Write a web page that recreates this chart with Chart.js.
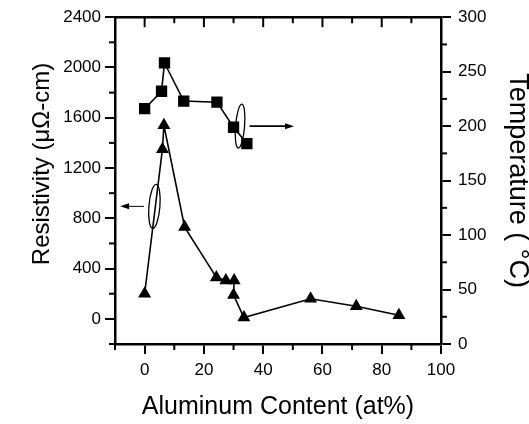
<!DOCTYPE html>
<html>
<head>
<meta charset="utf-8">
<script src="https://cdn.jsdelivr.net/npm/chart.js@4/dist/chart.umd.min.js"></script>
<style>
html,body{margin:0;padding:0;background:#fff;}
canvas{display:block;}
</style>
</head>
<body>
<canvas id="c" width="529" height="424"></canvas>
<script>
// ---- data ----
const tempAluminum = [0, 5.7, 6.7, 13.2, 24.4, 30, 34.5];
const temperatureValues = [216, 232, 258, 223, 222, 199, 184];
const resAluminum = [0, 6, 6.5, 13.5, 24.2, 27.4, 30.2, 30, 33.5, 56, 71.4, 85.8];
const resistivityValues = [200, 1350, 1540, 730, 330, 305, 305, 190, 10, 160, 100, 28];

// ---- tick labels ----
const xTicks = [0, 20, 40, 60, 80, 100];
const xMinorTicks = [-10, 10, 30, 50, 70, 90];
const resistivityTicks = [0, 400, 800, 1200, 1600, 2000, 2400];
const resistivityMinorTicks = [-200, 200, 600, 1000, 1400, 1800, 2200];
const temperatureTicks = [0, 50, 100, 150, 200, 250, 300];
const temperatureMinorTicks = [25, 75, 125, 175, 225, 275];

// ---- text ----
const xTitle = 'Aluminum Content (at%)';
const leftTitle = 'Resistivity (\u03BC\u03A9-cm)';
const rightTitle = 'Temperature ( \u00B0C)';

// ---- callouts (ellipse + arrow, in data units) ----
const calloutAxis = ['yR', 'y'];
const calloutX = [32.2, 3.3];
const calloutY = [200, 895];
const calloutArrowEnd = [50.4, -8.3];

const pairs = (xs, ys) => xs.map((x, i) => ({x: x, y: ys[i]}));
const FONT = '"Liberation Sans", Arial, Helvetica, sans-serif';
Chart.defaults.font.family = FONT;
Chart.defaults.color = '#000';

const setTicks = arr => (s => { s.ticks = arr.map(v => ({value: v})); });
const plain = v => String(v);

const extras = {
  id: 'extras',
  afterDraw(chart) {
    const ctx = chart.ctx;
    const a = chart.chartArea;
    const sx = chart.scales.x, sy = chart.scales.y, sr = chart.scales.yR;
    ctx.save();
    ctx.strokeStyle = '#000';
    ctx.fillStyle = '#000';
    // top frame
    ctx.lineWidth = 2.5;
    ctx.beginPath(); ctx.moveTo(a.left - 1, a.top); ctx.lineTo(a.right + 1, a.top); ctx.stroke();
    ctx.lineWidth = 2;
    // top ticks (pointing inward)
    xTicks.concat(xMinorTicks).forEach(v => {
      if (v <= -10 || v >= 100) return;
      const px = sx.getPixelForValue(v);
      const len = xTicks.includes(v) ? 10 : 6;
      ctx.beginPath(); ctx.moveTo(px, a.top); ctx.lineTo(px, a.top + len); ctx.stroke();
    });
    // minor ticks outward
    xMinorTicks.forEach(v => {
      const px = sx.getPixelForValue(v);
      ctx.beginPath(); ctx.moveTo(px, a.bottom); ctx.lineTo(px, a.bottom + 6); ctx.stroke();
    });
    resistivityMinorTicks.forEach(v => {
      const py = sy.getPixelForValue(v);
      ctx.beginPath(); ctx.moveTo(a.left, py); ctx.lineTo(a.left - 6, py); ctx.stroke();
    });
    temperatureMinorTicks.forEach(v => {
      const py = sr.getPixelForValue(v);
      ctx.beginPath(); ctx.moveTo(a.right, py); ctx.lineTo(a.right + 6, py); ctx.stroke();
    });
    // callouts
    calloutAxis.forEach((ax, i) => {
      const ys = chart.scales[ax];
      const cx = sx.getPixelForValue(calloutX[i]);
      const cy = ys.getPixelForValue(calloutY[i]);
      const rx = i === 0 ? 4.5 : 5.5;
      const ry = 22;
      ctx.lineWidth = 1.3;
      ctx.beginPath(); ctx.ellipse(cx, cy, rx, ry, 0.08, 0, Math.PI * 2); ctx.stroke();
      const ex = sx.getPixelForValue(calloutArrowEnd[i]);
      const dir = ex > cx ? 1 : -1;
      const sxp = cx + dir * (rx + 5);
      ctx.lineWidth = i === 0 ? 1.6 : 1;
      ctx.beginPath(); ctx.moveTo(sxp, cy); ctx.lineTo(ex - dir * 8, cy); ctx.stroke();
      ctx.beginPath();
      ctx.moveTo(ex, cy); ctx.lineTo(ex - dir * 9, cy - 3); ctx.lineTo(ex - dir * 9, cy + 3);
      ctx.closePath(); ctx.fill();
    });
    ctx.restore();
  }
};

const tickGrid = {drawOnChartArea: false, drawTicks: true, tickLength: 10, color: '#000', lineWidth: 2, tickWidth: 2};
const border = {display: true, color: '#000', width: 2.5};

new Chart(document.getElementById('c'), {
  type: 'scatter',
  data: {
    datasets: [
      {
        label: 'Temperature',
        data: pairs(tempAluminum, temperatureValues),
        yAxisID: 'yR',
        showLine: true,
        borderColor: '#000',
        backgroundColor: '#000',
        borderWidth: 1.6,
        pointStyle: 'rect',
        pointRadius: 8,
        pointBorderWidth: 0
      },
      {
        label: 'Resistivity',
        data: pairs(resAluminum, resistivityValues),
        yAxisID: 'y',
        showLine: true,
        borderColor: '#000',
        backgroundColor: '#000',
        borderWidth: 1.6,
        pointStyle: 'triangle',
        pointRadius: 7.5,
        pointBorderWidth: 0
      }
    ]
  },
  options: {
    responsive: false,
    animation: false,
    events: [],
    layout: {padding: {top: 15, left: 0, right: 0, bottom: 0}},
    plugins: {legend: {display: false}, tooltip: {enabled: false}},
    scales: {
      x: {
        type: 'linear', position: 'bottom', min: -10, max: 100,
        afterBuildTicks: setTicks(xTicks),
        afterFit: s => { s.height = 80; },
        grid: tickGrid, border: border,
        ticks: {font: {size: 17}, color: '#000', padding: 6, maxRotation: 0, callback: plain},
        title: {display: true, text: xTitle, color: '#000', font: {size: 25, lineHeight: 1}, padding: {top: 0, bottom: 4}}
      },
      y: {
        type: 'linear', position: 'left', min: -200, max: 2400,
        afterBuildTicks: setTicks(resistivityTicks),
        afterFit: s => { s.width = 115; },
        grid: tickGrid, border: border,
        ticks: {font: {size: 17}, color: '#000', padding: 4, callback: plain},
        title: {display: true, text: '     ' + leftTitle, color: '#000', font: {size: 24, lineHeight: 1}, padding: {top: 30, bottom: 0}}
      },
      yR: {
        type: 'linear', position: 'right', min: 0, max: 300,
        afterBuildTicks: setTicks(temperatureTicks),
        afterFit: s => { s.width = 88; },
        grid: tickGrid, border: border,
        ticks: {font: {size: 17}, color: '#000', padding: 7, callback: plain},
        title: {display: true, text: rightTitle, color: '#000', font: {size: 27, lineHeight: 0.85}, padding: {top: 0, bottom: 0}}
      }
    }
  },
  plugins: [extras]
});
</script>
</body>
</html>
